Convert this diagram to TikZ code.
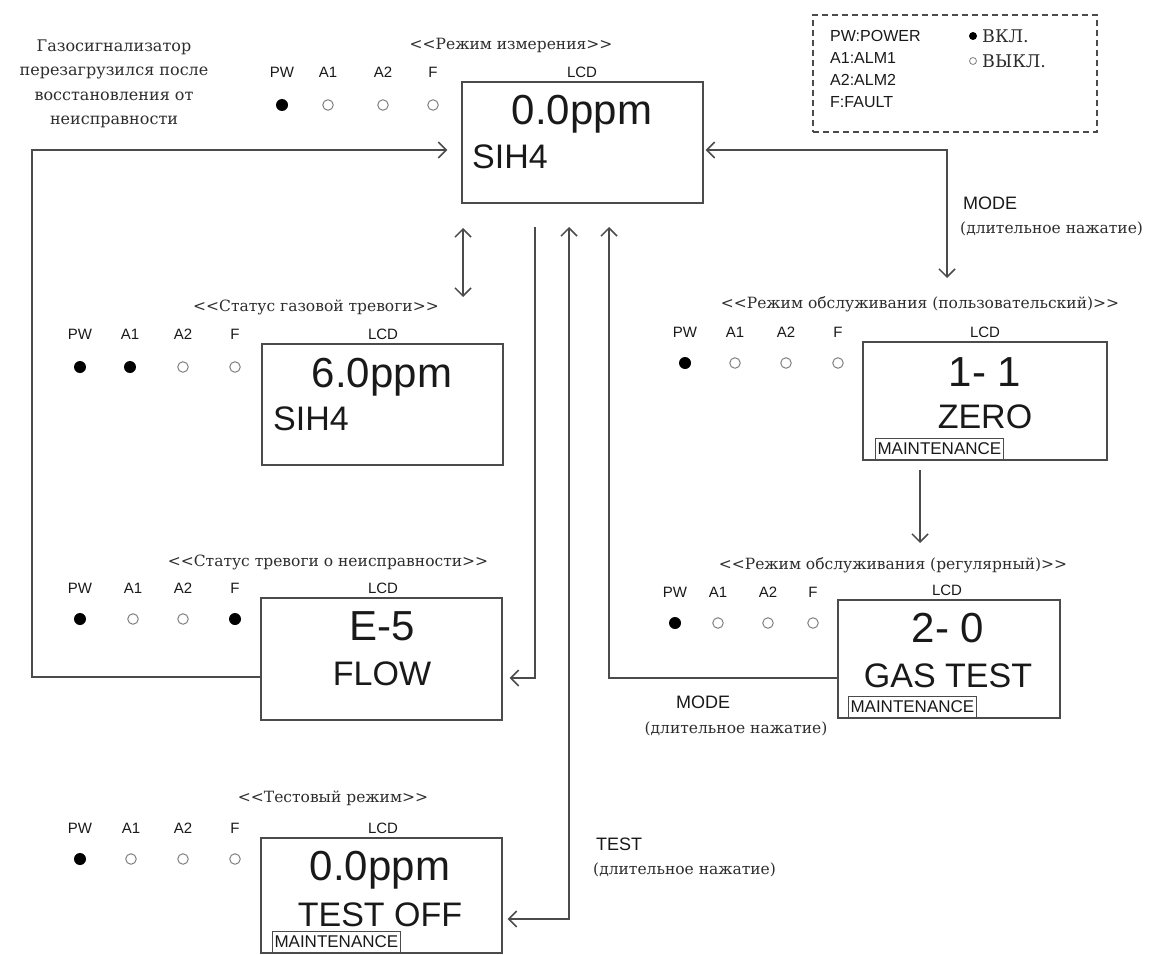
\documentclass[tikz,border=0pt]{standalone}
\usepackage{fontspec}
\setmainfont{DejaVu Serif}[Ligatures=TeXOff]
\setsansfont{Liberation Sans}
\usetikzlibrary{arrows.meta}
\definecolor{ln}{RGB}{75,75,75}
\definecolor{tx}{RGB}{25,25,25}
\definecolor{stx}{RGB}{45,45,45}
\begin{document}
\begin{tikzpicture}[x=1pt,y=-1pt,
  lcd/.style={draw=ln, line width=1.3pt, inner sep=0pt},
  big/.style={font=\sffamily\fontsize{42}{42}\selectfont, text=tx, inner sep=0pt, anchor=base},
  mid/.style={font=\sffamily\fontsize{34}{34}\selectfont, text=tx, inner sep=0pt, anchor=base},
  lbl/.style={font=\sffamily\fontsize{15}{15}\selectfont, text=tx, inner sep=0pt},
  lbltwo/.style={font=\sffamily\fontsize{18}{18}\selectfont, text=tx, inner sep=0pt},
  ttl/.style={font=\fontsize{15.5}{15.5}\selectfont, text=stx, inner sep=0pt},
  maint/.style={draw=ln, line width=1pt, font=\sffamily\fontsize{17}{17}\selectfont, text=tx, inner xsep=2pt, inner ysep=4.5pt, anchor=south west},
  ledon/.style={circle, fill=black, minimum size=12pt, inner sep=0pt},
  ledoff/.style={circle, draw=gray, line width=1pt, minimum size=10.5pt, inner sep=0pt},
  conn/.style={draw=ln, line width=1.5pt},
  tip/.style={-{Straight Barb[length=8pt,width=16pt]}},
  tipboth/.style={{Straight Barb[length=8pt,width=16pt]}-{Straight Barb[length=8pt,width=16pt]}}
]
\useasboundingbox (0,0) rectangle (1170,955);

% top-left note
\node[ttl, align=center, font=\fontsize{16}{24.5}\selectfont] (note) at (114,84)
  {Газосигнализатор\\перезагрузился после\\восстановления от\\неисправности};

% legend
\node[draw=ln, line width=1.5pt, dash pattern=on 6pt off 4pt, minimum width=284pt, minimum height=117pt, inner sep=0pt] (leg) at (955,73.5) {};
\node[lbl, font=\sffamily\fontsize{16}{16}\selectfont, anchor=west] (lg1) at (830,36) {PW:POWER};
\node[lbl, font=\sffamily\fontsize{16}{16}\selectfont, anchor=west] (lg2) at (830,58) {A1:ALM1};
\node[lbl, font=\sffamily\fontsize{16}{16}\selectfont, anchor=west] (lg3) at (830,80) {A2:ALM2};
\node[lbl, font=\sffamily\fontsize{16}{16}\selectfont, anchor=west] (lg4) at (830,102) {F:FAULT};
\node[circle, fill=black, minimum size=8pt, inner sep=0pt] (lgon) at (973,36) {};
\node[ttl, font=\fontsize{17.5}{17.5}\selectfont, anchor=west] (lgont) at (982,36) {ВКЛ.};
\node[circle, draw=gray, line width=0.8pt, minimum size=7pt, inner sep=0pt] (lgoff) at (973,61) {};
\node[ttl, font=\fontsize{17.5}{17.5}\selectfont, anchor=west] (lgofft) at (982,61) {ВЫКЛ.};

% ---- panel A: measurement
\node[ttl] (tA) at (511,45) {<<Режим измерения>>};
\foreach \x/\l/\s [count=\i] in {282/PW/ledon,328/A1/ledoff,383/A2/ledoff,433/F/ledoff}{
  \node[lbl] (A-l\i) at (\x,72) {\l};
  \node[\s] (A-d\i) at (\x,105) {};
}
\node[lbl] (A-lcd) at (582,72) {LCD};
\node[lcd, minimum width=241pt, minimum height=121pt] (m1) at (582.5,142.5) {};
\node[big] (m1a) at (582,125) {0.0ppm};
\node[mid, anchor=base west] (m1b) at (472,168) {SIH4};

% ---- panel B: gas alarm
\node[ttl] (tB) at (316,307) {<<Статус газовой тревоги>>};
\foreach \x/\l/\s [count=\i] in {80/PW/ledon,130/A1/ledon,183/A2/ledoff,235/F/ledoff}{
  \node[lbl] (B-l\i) at (\x,334) {\l};
  \node[\s] (B-d\i) at (\x,367) {};
}
\node[lbl] (B-lcd) at (383,334) {LCD};
\node[lcd, minimum width=241pt, minimum height=121pt] (m2) at (382.5,404.5) {};
\node[big] (m2a) at (382,387) {6.0ppm};
\node[mid, anchor=base west] (m2b) at (273,430) {SIH4};

% ---- panel C: fault
\node[ttl] (tC) at (328,562) {<<Статус тревоги о неисправности>>};
\foreach \x/\l/\s [count=\i] in {80/PW/ledon,133/A1/ledoff,183/A2/ledoff,235/F/ledon}{
  \node[lbl] (C-l\i) at (\x,588) {\l};
  \node[\s] (C-d\i) at (\x,619) {};
}
\node[lbl] (C-lcd) at (383,588) {LCD};
\node[lcd, minimum width=241pt, minimum height=122pt] (m3) at (381.5,659) {};
\node[big] (m3a) at (382,640) {E-5};
\node[mid] (m3b) at (382,685) {FLOW};

% ---- panel D: test
\node[ttl] (tD) at (333,798) {<<Тестовый режим>>};
\foreach \x/\l/\s [count=\i] in {80/PW/ledon,131/A1/ledoff,183/A2/ledoff,235/F/ledoff}{
  \node[lbl] (D-l\i) at (\x,828) {\l};
  \node[\s] (D-d\i) at (\x,859) {};
}
\node[lbl] (D-lcd) at (383,828) {LCD};
\node[lcd, minimum width=241pt, minimum height=115pt] (m4) at (381.5,895.5) {};
\node[big] (m4a) at (380,880) {0.0ppm};
\node[mid] (m4b) at (380,926) {TEST OFF};
\node[maint] (m4c) at (272,953) {MAINTENANCE};

% ---- panel E: user maintenance
\node[ttl] (tE) at (920,304) {<<Режим обслуживания (пользовательский)>>};
\foreach \x/\l/\s [count=\i] in {685/PW/ledon,735/A1/ledoff,786/A2/ledoff,838/F/ledoff}{
  \node[lbl] (E-l\i) at (\x,332) {\l};
  \node[\s] (E-d\i) at (\x,363) {};
}
\node[lbl] (E-lcd) at (985,332) {LCD};
\node[lcd, minimum width=244pt, minimum height=118pt] (m5) at (985,401) {};
\node[big] (m5a) at (985,386) {1- 1};
\node[mid] (m5b) at (985,428) {ZERO};
\node[maint] (m5c) at (875,460) {MAINTENANCE};

% ---- panel F: regular maintenance
\node[ttl] (tF) at (893,565) {<<Режим обслуживания (регулярный)>>};
\foreach \x/\l/\s [count=\i] in {675/PW/ledon,718/A1/ledoff,768/A2/ledoff,813/F/ledoff}{
  \node[lbl] (F-l\i) at (\x,592) {\l};
  \node[\s] (F-d\i) at (\x,623) {};
}
\node[lbl] (F-lcd) at (947,590) {LCD};
\node[lcd, minimum width=222pt, minimum height=118pt] (m6) at (949,659) {};
\node[big] (m6a) at (948,642) {2- 0};
\node[mid] (m6b) at (948,687) {GAS TEST};
\node[maint] (m6c) at (848,718) {MAINTENANCE};

% ---- connector labels
\node[lbltwo, anchor=west] (mode1) at (963,203) {MODE};
\node[ttl, anchor=west] (mode1d) at (960,229) {(длительное нажатие)};
\node[lbltwo] (mode2) at (703,702) {MODE};
\node[ttl] (mode2d) at (736,729) {(длительное нажатие)};
\node[lbltwo, anchor=west] (test) at (596,844) {TEST};
\node[ttl, anchor=west] (testd) at (593,870) {(длительное нажатие)};

% ---- connectors
\coordinate (c1) at (32,677);
\coordinate (c2) at (32,150);
\draw[conn, tip, shorten >=14pt] ([yshift=-18pt]m3.west) -- (c1) -- (c2) -- ([yshift=-7.5pt]m1.west);

\coordinate (c3) at (947,150);
\coordinate (c4) at (947,278);
\draw[conn, tipboth, shorten <=2pt] ([yshift=-7.5pt]m1.east) -- (c3) -- (c4);

\coordinate (c5) at (463,228);
\coordinate (c6) at (463,297);
\draw[conn, tipboth] (c5) -- (c6);

\coordinate (c7) at (535,227);
\draw[conn, tip, shorten >=7pt] (c7) |- ([yshift=-19pt]m3.east);

\coordinate (c8) at (569,227);
\draw[conn, tipboth, shorten >=5pt] (c8) |- ([yshift=-23.5pt]m4.east);

\coordinate (c9) at (609,227);
\draw[conn, tip] ([yshift=-19pt]m6.west) -| (c9);

\coordinate (c10) at (920,470);
\coordinate (c11) at (920,543);
\draw[conn, tip] (c10) -- (c11);
\end{tikzpicture}
\end{document}
